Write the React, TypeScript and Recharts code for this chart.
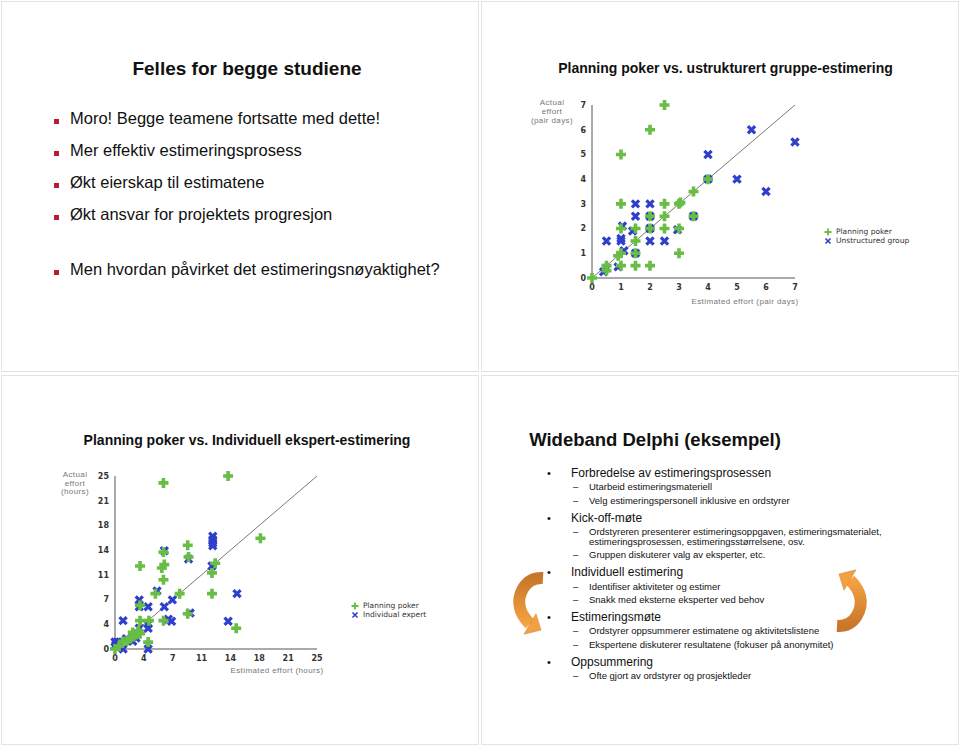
import React from 'react';
import { ScatterChart, Scatter, XAxis, YAxis, ReferenceLine, Legend } from 'recharts';

type Pt = { x: number; y: number };
const pts = (a: number[][]): Pt[] => a.map(([x, y]) => ({ x, y }));

const FONT = '"Liberation Sans", Arial, sans-serif';
const VFONT = '"DejaVu Sans", Verdana, sans-serif';
const GREEN = '#68bd45';
const BLUE = '#2f3fcc';

// ---- Top-right chart: Planning poker vs. unstructured group (pair days)
const pairDayTicks = [0, 1, 2, 3, 4, 5, 6, 7];
const groupUnstructured = pts([
  [5.5, 6], [7, 5.5], [4, 5], [5, 4], [6, 3.5], [4, 4], [1.5, 3], [2, 3], [1.5, 2.5], [2, 2.5],
  [3.5, 2.5], [1.05, 2.1], [1.4, 1.9], [2, 2], [2.95, 1.95], [0.5, 1.5], [1, 1.5], [1, 1.6],
  [2, 1.5], [2.5, 1.5], [1.1, 1.1], [1.5, 1], [0.5, 0.4], [0.4, 0.25], [0.9, 0.45],
]);
const groupPoker = pts([
  [2.5, 7], [2, 6], [1, 5], [4, 4], [3.5, 3.5], [1, 3], [2.5, 3], [3, 3], [3.05, 3.05], [2, 2.5],
  [2.5, 2.5], [3.5, 2.5], [1, 2], [1.5, 2], [2, 2], [2.5, 2], [3, 2], [1.5, 1.5], [1, 1],
  [0.9, 0.9], [1.5, 1], [3, 1], [0.5, 0.5], [0.5, 0.3], [1, 0.5], [1.5, 0.5], [2, 0.5], [0, 0],
]);
const legendTop = ['Planning poker', 'Unstructured group'];

// ---- Bottom-left chart: Planning poker vs. individual expert (hours)
const hourTickLabels = ['0', '4', '7', '11', '14', '18', '21', '25'];
const hourTicks = hourTickLabels.map((_, i) => (i * 25) / 7);
const expertIndividual = pts([
  [12.1, 16.3], [12.1, 15.8], [12.1, 15.3], [12.1, 14.9], [6.1, 14.2], [9.1, 13], [12, 12],
  [5.2, 8.4], [15.1, 8], [3, 7.1], [3, 6.1], [4.1, 6.1], [6.1, 6.1], [7.1, 7.1], [1, 4.1],
  [6.6, 4.3], [7, 4], [14, 4], [9.3, 5.2], [3, 3], [4.1, 3], [4.1, 3.6], [4.1, 0], [1, 0],
  [0, 1], [0.3, 1], [0.5, 0.5], [1.4, 1.5], [2.2, 1.1], [2.6, 1.6], [0.1, 0.6],
]);
const expertPoker = pts([
  [14, 25], [6, 24], [18, 16], [9, 15], [9.1, 13.3], [12.4, 12.4], [3.1, 12], [5.8, 11.7],
  [6.1, 12.2], [6, 10], [6, 14], [12, 11], [5, 8], [8, 8], [12, 8], [3.1, 6.3], [9, 5.1],
  [6, 4.1], [15, 3], [3.1, 4.1], [4.2, 4.1], [4.1, 1], [2.6, 2.1], [2.3, 1.8], [1.9, 1.5],
  [1, 1.1], [0, 0], [3.1, 2.2], [2.9, 2.6], [1.5, 1.2], [0.5, 0.4], [2.2, 2.4],
]);
const legendBottom = ['Planning poker', 'Individual expert'];

// ---- Text content
const topLeftBullets = [
  'Moro! Begge teamene fortsatte med dette!',
  'Mer effektiv estimeringsprosess',
  'Økt eierskap til estimatene',
  'Økt ansvar for projektets progresjon',
  'Men hvordan påvirket det estimeringsnøyaktighet?',
];
const topLeftBulletY = [118, 150, 182, 214, 269];

type Line = { level: 1 | 2 | 3; text: string; y: number };
const delphiLines: Line[] = [
  { level: 1, text: 'Forbredelse av estimeringsprosessen', y: 473 },
  { level: 2, text: 'Utarbeid estimeringsmateriell', y: 487 },
  { level: 2, text: 'Velg estimeringspersonell inklusive en ordstyrer', y: 501 },
  { level: 1, text: 'Kick-off-møte', y: 518 },
  { level: 2, text: 'Ordstyreren presenterer estimeringsoppgaven, estimeringsmaterialet,', y: 532 },
  { level: 3, text: 'estimeringsprosessen, estimeringsstørrelsene, osv.', y: 542 },
  { level: 2, text: 'Gruppen diskuterer valg av eksperter, etc.', y: 555 },
  { level: 1, text: 'Individuell estimering', y: 572 },
  { level: 2, text: 'Identifiser aktiviteter og estimer', y: 587 },
  { level: 2, text: 'Snakk med eksterne eksperter ved behov', y: 600 },
  { level: 1, text: 'Estimeringsmøte', y: 617 },
  { level: 2, text: 'Ordstyrer  oppsummerer estimatene og aktivitetslistene', y: 631 },
  { level: 2, text: 'Ekspertene diskuterer resultatene (fokuser på anonymitet)', y: 645 },
  { level: 1, text: 'Oppsummering', y: 662 },
  { level: 2, text: 'Ofte gjort av ordstyrer og prosjektleder', y: 676 },
];

// ---- Marker shapes
const PlusShape = (props: any) => {
  const { cx, cy } = props;
  if (cx == null || cy == null) return <g />;
  const s = 5;
  return (
    <path d={`M${cx - s},${cy}H${cx + s}M${cx},${cy - s}V${cy + s}`} stroke={GREEN} strokeWidth={3.6} fill="none" />
  );
};
const CrossShape = (props: any) => {
  const { cx, cy } = props;
  if (cx == null || cy == null) return <g />;
  const s = 3.6;
  return (
    <path d={`M${cx - s},${cy - s}L${cx + s},${cy + s}M${cx + s},${cy - s}L${cx - s},${cy + s}`} stroke={BLUE} strokeWidth={3.2} fill="none" />
  );
};

const LegendBox = ({ labels }: { labels: string[] }) => (
  <div style={{ fontFamily: VFONT, fontSize: 7.5, color: '#333', lineHeight: '9px', whiteSpace: 'nowrap' }}>
    <div style={{ display: 'flex', alignItems: 'center' }}>
      <svg width={8} height={8} style={{ marginRight: 4 }}>
        <path d="M0.5,4H7.5M4,0.5V7.5" stroke={GREEN} strokeWidth={1.8} />
      </svg>
      {labels[0]}
    </div>
    <div style={{ display: 'flex', alignItems: 'center' }}>
      <svg width={8} height={8} style={{ marginRight: 4 }}>
        <path d="M1.5,1.5L6.5,6.5M6.5,1.5L1.5,6.5" stroke={BLUE} strokeWidth={1.6} />
      </svg>
      {labels[1]}
    </div>
  </div>
);

type ChartProps = {
  left: number; top: number; width: number; height: number;
  margin: { top: number; right: number; bottom: number; left: number };
  yWidth: number; max: number; ticks: number[]; fmt: (v: number) => string;
  poker: Pt[]; other: Pt[]; labels: string[]; legendLeft: number; legendTop: number;
};

const EffortChart = (p: ChartProps) => {
  const tick = { fill: '#333', fontSize: 8, fontWeight: 'bold' as const, fontFamily: VFONT };
  return (
    <div style={{ position: 'absolute', left: p.left, top: p.top }}>
      <ScatterChart width={p.width} height={p.height} margin={p.margin}>
        <XAxis type="number" dataKey="x" domain={[0, p.max]} ticks={p.ticks} tickFormatter={p.fmt}
          tickLine={false} tickSize={4} axisLine={{ stroke: '#555' }} tick={tick} height={17} interval={0} />
        <YAxis type="number" dataKey="y" domain={[0, p.max]} ticks={p.ticks} tickFormatter={p.fmt}
          tickLine={false} tickSize={4} axisLine={{ stroke: '#555' }} tick={tick} width={p.yWidth} interval={0} />
        <ReferenceLine segment={[{ x: 0, y: 0 }, { x: p.max, y: p.max }]} stroke="#7a7a7a" strokeWidth={1} />
        <Scatter name={p.labels[1]} data={p.other} shape={CrossShape} isAnimationActive={false} />
        <Scatter name={p.labels[0]} data={p.poker} shape={PlusShape} isAnimationActive={false} />
        <Legend layout="vertical" align="center" verticalAlign="middle"
          wrapperStyle={{ left: p.legendLeft, top: p.legendTop, width: 110, height: 20 }}
          content={() => <LegendBox labels={p.labels} />} />
      </ScatterChart>
    </div>
  );
};

const T = ({ x, y, size, bold, center, color, spacing, children }: any) => (
  <div style={{
    position: 'absolute', left: x, top: y - size / 2, fontSize: size, lineHeight: `${size}px`,
    fontWeight: bold ? 'bold' : 'normal', fontFamily: FONT, color: color || '#111', whiteSpace: 'nowrap',
    transform: center ? 'translateX(-50%)' : undefined, letterSpacing: spacing || 0, textAlign: center ? 'center' : 'left',
  }}>{children}</div>
);

const ArrowShape = ({ transform, id }: { transform: string; id: string }) => (
  <g transform={transform}>
    <defs>
      <linearGradient id={id} x1="0" y1="0" x2="0" y2="1">
        <stop offset="0" stopColor="#c8772a" />
        <stop offset="1" stopColor="#f5a243" />
      </linearGradient>
    </defs>
    <path d="M29,10 C10,9 3,28 6,40 C8,48 12,52 16,56" stroke={`url(#${id})`} strokeWidth={12} fill="none" />
    <polygon points="10,66.2 22,45.8 27,62" fill="#f3a043" stroke="#d98a32" strokeWidth={0.6} />
  </g>
);

export default function App() {
  const pairFmt = (v: number) => String(v);
  const hourFmt = (v: number) => {
    const i = hourTicks.findIndex((t) => Math.abs(t - v) < 1e-6);
    return i >= 0 ? hourTickLabels[i] : '';
  };
  return (
    <div style={{ position: 'fixed', left: 0, top: 0, width: 960, height: 746, background: '#fff', overflow: 'hidden' }}>
      <svg width={960} height={746} style={{ position: 'absolute', left: 0, top: 0 }}>
        <rect x={1.5} y={1.5} width={477} height={370} fill="none" stroke="#e2e2e2" />
        <rect x={481.5} y={1.5} width={477} height={370} fill="none" stroke="#e2e2e2" />
        <rect x={1.5} y={375.5} width={477} height={369} fill="none" stroke="#e2e2e2" />
        <rect x={481.5} y={375.5} width={477} height={369} fill="none" stroke="#e2e2e2" />
        <ArrowShape transform="translate(514,568)" id="arrL" />
        <ArrowShape transform="translate(866,636) rotate(180)" id="arrR" />
      </svg>

      {/* Top-left slide */}
      <T x={247} y={68} size={19} bold center>Felles for begge studiene</T>
      {topLeftBullets.map((b, i) => (
        <React.Fragment key={b}>
          <div style={{ position: 'absolute', left: 54, top: topLeftBulletY[i] + 1, width: 5, height: 5, background: '#b5202c' }} />
          <T x={70} y={topLeftBulletY[i]} size={16.5}>{b}</T>
        </React.Fragment>
      ))}

      {/* Top-right slide */}
      <T x={725.5} y={68} size={14} bold center>Planning poker vs. ustrukturert gruppe-estimering</T>
      <T x={552} y={103} size={8} center color="#777" spacing={0.4}>Actual</T>
      <T x={552} y={112} size={8} center color="#777" spacing={0.4}>effort</T>
      <T x={552} y={121} size={8} center color="#777" spacing={0.4}>(pair days)</T>
      <T x={745} y={302} size={8} center color="#777" spacing={0.4}>Estimated effort (pair days)</T>
      <EffortChart left={560} top={95} width={370} height={200}
        margin={{ top: 10, right: 135, bottom: 0, left: 0 }} yWidth={32} max={7} ticks={pairDayTicks} fmt={pairFmt}
        poker={groupPoker} other={groupUnstructured} labels={legendTop} legendLeft={264} legendTop={132} />

      {/* Bottom-left slide */}
      <T x={247} y={440} size={14} bold center>Planning poker vs. Individuell ekspert-estimering</T>
      <T x={75} y={475} size={8} center color="#777" spacing={0.4}>Actual</T>
      <T x={75} y={484} size={8} center color="#777" spacing={0.4}>effort</T>
      <T x={75} y={492} size={8} center color="#777" spacing={0.4}>(hours)</T>
      <T x={277} y={671} size={8} center color="#777" spacing={0.4}>Estimated effort (hours)</T>
      <EffortChart left={85} top={466} width={370} height={200}
        margin={{ top: 10, right: 138, bottom: 0, left: 0 }} yWidth={30} max={25} ticks={hourTicks} fmt={hourFmt}
        poker={expertPoker} other={expertIndividual} labels={legendBottom} legendLeft={266} legendTop={135} />

      {/* Bottom-right slide */}
      <T x={655} y={440} size={18.5} bold center>Wideband Delphi (eksempel)</T>
      {delphiLines.map((l, i) => (
        <React.Fragment key={i}>
          {l.level === 1 && <T x={547} y={l.y} size={11}>•</T>}
          {l.level === 2 && <T x={573} y={l.y} size={9.5}>–</T>}
          <T x={l.level === 1 ? 571 : 589} y={l.y} size={l.level === 1 ? 12 : 9.5}>{l.text}</T>
        </React.Fragment>
      ))}
    </div>
  );
}
